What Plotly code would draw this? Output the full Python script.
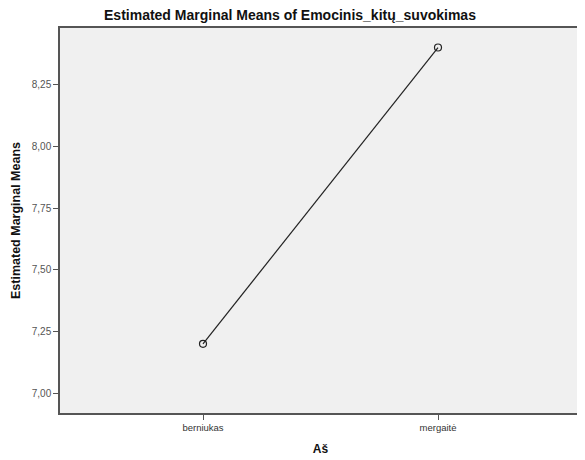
import plotly.graph_objects as go

categories = ["berniukas", "mergaitė"]
means = [7.20, 8.40]
y_ticks = [7.00, 7.25, 7.50, 7.75, 8.00, 8.25]

fig = go.Figure()
fig.add_trace(go.Scatter(
    x=categories, y=means, mode="lines+markers",
    line=dict(color="#222222", width=1.2),
    marker=dict(symbol="circle-open", size=7, color="#222222", line=dict(width=1.2)),
    showlegend=False,
))

# page body has an 8px default margin, so figure coords = page coords - 8
fig.update_layout(
    width=585, height=460,
    margin=dict(l=52, r=12, t=20, b=55),
    paper_bgcolor="white", plot_bgcolor="#f0f0f0",
    separators=",.",
    font=dict(family="Liberation Sans, Arial, sans-serif", color="#222222"),
    title=dict(text="<b>Estimated Marginal Means of Emocinis_kitų_suvokimas</b>",
               x=0.482, xanchor="center", y=1 - 7 / 460, yanchor="middle",
               font=dict(size=14, color="#111111")),
    xaxis=dict(
        type="category", range=[-0.6085, 1.6085],
        showgrid=False, zeroline=False, automargin=False,
        showline=True, linecolor="#555555", linewidth=1.5, mirror=True,
        ticks="outside", ticklen=5, tickcolor="#555555",
        tickfont=dict(size=9.5, color="#333333"),
        title=dict(text="<b>Aš</b>", font=dict(size=12, color="#111111"), standoff=12),
    ),
    yaxis=dict(
        range=[6.920, 8.479],
        tickvals=y_ticks, tickformat=".2f",
        showgrid=False, zeroline=False, automargin=False,
        showline=True, linecolor="#555555", linewidth=1.5, mirror=True,
        ticks="outside", ticklen=5, tickcolor="#555555",
        tickfont=dict(size=10, color="#555555"),
        title=dict(text="<b>Estimated Marginal Means</b>", font=dict(size=12.5, color="#111111"), standoff=8),
    ),
)

fig.write_html("out.html")
